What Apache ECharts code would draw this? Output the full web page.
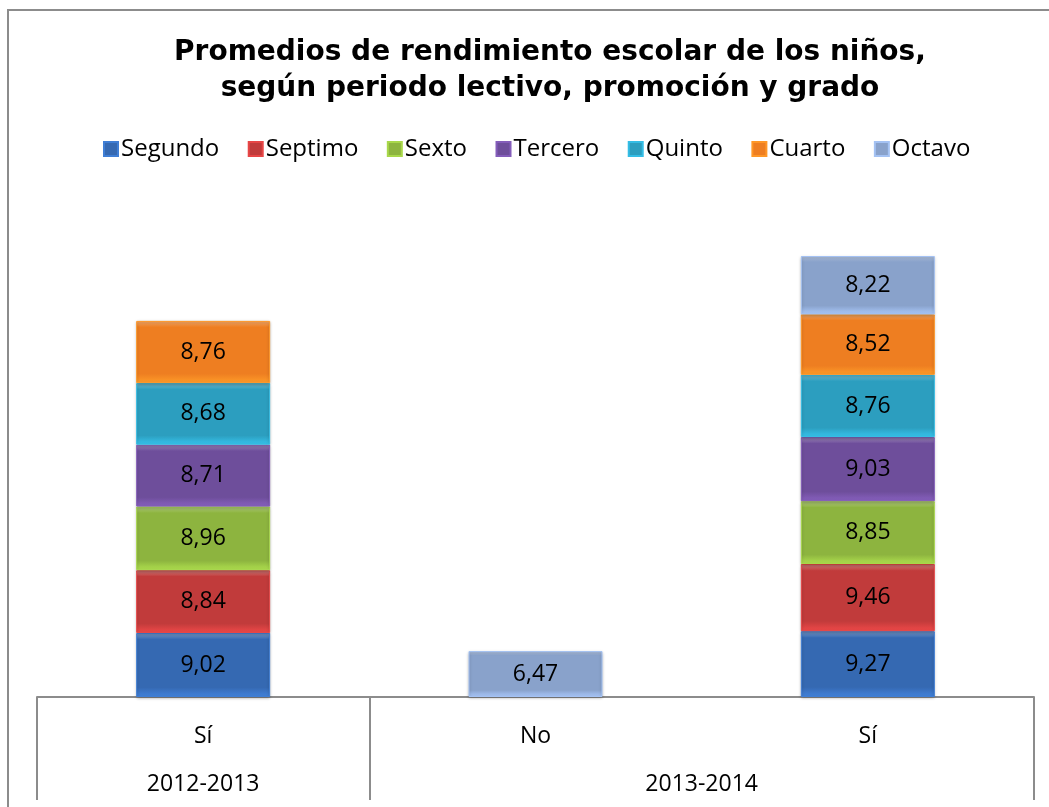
<!DOCTYPE html>
<html>
<head>
<meta charset="utf-8">
<script src="https://cdn.jsdelivr.net/npm/echarts@6/dist/echarts.min.js"></script>
<style>
  html, body { margin: 0; padding: 0; background: #fff; }
  #chart { width: 1049px; height: 807px; }
</style>
</head>
<body>
<div id="chart"></div>
<script>
// categorías (fila 1) y periodos (fila 2)
const promocion = ['Sí', 'No', 'Sí'];
const periodoSlots = ['', '2012-2013', '', '', '2013-2014', '', ''];

const grados = ['Segundo', 'Septimo', 'Sexto', 'Tercero', 'Quinto', 'Cuarto', 'Octavo'];
const colores = ['#3569b2', '#c13b3b', '#8db43f', '#6e4e9b', '#2c9ebf', '#ee7e21', '#89a2cb'];

const Data_Segundo = [9.02, null, 9.27];
const Data_Septimo = [8.84, null, 9.46];
const Data_Sexto = [8.96, null, 8.85];
const Data_Tercero = [8.71, null, 9.03];
const Data_Quinto = [8.68, null, 8.76];
const Data_Cuarto = [8.76, null, 8.52];
const Data_Octavo = [null, 6.47, 8.22];

const valores = [Data_Segundo, Data_Septimo, Data_Sexto, Data_Tercero, Data_Quinto, Data_Cuarto, Data_Octavo];

function bevel(c) {
  return {
    type: 'linear', x: 0, y: 0, x2: 0, y2: 1,
    colorStops: [
      {offset: 0, color: echarts.color.lift(c, 0.35)},
      {offset: 0.1, color: c},
      {offset: 0.85, color: c},
      {offset: 1, color: echarts.color.lift(c, -0.25)}
    ]
  };
}

function renderChart() {
  const chart = echarts.init(document.getElementById('chart'));
  const font = '"Open Sans", Lato, sans-serif';
  const option = {
    animation: false,
    title: {
      text: 'Promedios de rendimiento escolar de los niños,\nsegún periodo lectivo, promoción y grado',
      left: 545,
      top: 30,
      textAlign: 'center',
      textStyle: {
        fontFamily: '"DejaVu Sans", sans-serif',
        fontWeight: 'bold',
        fontSize: 28,
        lineHeight: 36,
        color: '#000'
      }
    },
    graphic: [{
      type: 'rect',
      shape: {x: 8, y: 10, width: 1100, height: 900},
      style: {fill: null, stroke: '#8c8c8c', lineWidth: 2},
      silent: true
    }],
    legend: {
      data: grados,
      top: 132,
      left: 98,
      itemWidth: 14,
      itemHeight: 14,
      itemGap: 28.5,
      icon: 'rect',
      textStyle: {fontFamily: font, fontSize: 24, color: '#000', padding: [0, 0, 0, -2]}
    },
    grid: {
      left: 37,
      right: 15,
      top: 200,
      bottom: 110
    },
    xAxis: [
      {
        type: 'category',
        data: promocion,
        axisLine: {show: true, lineStyle: {color: '#8c8c8c', width: 2}},
        axisTick: {show: false},
        axisLabel: {fontFamily: font, fontSize: 23, color: '#000', margin: 28}
      },
      {
        type: 'category',
        data: periodoSlots,
        position: 'bottom',
        boundaryGap: false,
        axisLine: {show: false},
        axisTick: {
          show: true,
          length: 103,
          interval: (i) => i === 0 || i === 2 || i === 6,
          lineStyle: {color: '#8c8c8c', width: 2}
        },
        axisLabel: {
          fontFamily: font, fontSize: 23, color: '#000', margin: 76,
          interval: (i, v) => v !== ''
        }
      }
    ],
    yAxis: {
      type: 'value',
      min: 0,
      max: 70,
      show: false,
      splitLine: {show: false}
    },
    series: grados.map((g, i) => ({
      name: g,
      type: 'bar',
      stack: 'total',
      xAxisIndex: 0,
      barWidth: 134,
      data: valores[i],
      itemStyle: {
        color: bevel(colores[i]),
        borderColor: echarts.color.lift(colores[i], -0.2),
        borderWidth: 1,
        shadowColor: 'rgba(0,0,0,0.25)',
        shadowBlur: 3,
        shadowOffsetY: 1
      },
      label: {
        show: true,
        position: 'inside',
        fontFamily: font,
        fontSize: 23,
        color: '#000',
        formatter: (p) => p.value == null ? '' : p.value.toFixed(2).replace('.', ',')
      }
    }))
  };
  chart.setOption(option, true);
}
renderChart();
</script>
</body>
</html>
